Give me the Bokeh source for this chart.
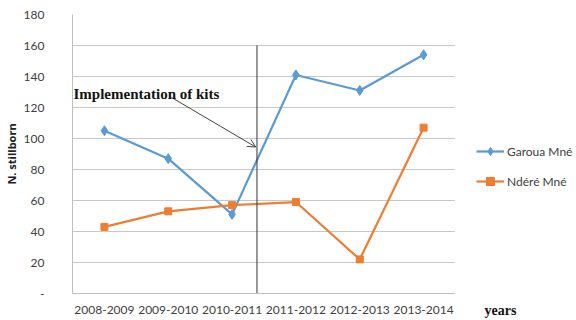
from bokeh.plotting import figure
from bokeh.models import Legend, LegendItem, Label, Arrow, OpenHead, FixedTicker, Range1d
from bokeh.layouts import row
from bokeh.embed import file_html
from bokeh.resources import INLINE

years = ["2008-2009", "2009-2010", "2010-2011", "2011-2012", "2012-2013", "2013-2014"]
garoua = [105, 87, 51, 141, 131, 154]
ndere = [43, 53, 57, 59, 22, 107]
y_ticks = [0, 20, 40, 60, 80, 100, 120, 140, 160, 180]

BLUE = "#5B9BD5"
ORANGE = "#ED7D31"

xs = list(range(len(years)))

p = figure(width=455, height=320, output_backend="svg", toolbar_location=None,
           x_range=(-0.5, 5.5), y_range=(0, 180),
           min_border_left=71, min_border_right=0, min_border_top=14, min_border_bottom=27)
p.outline_line_color = None

# axes
p.xaxis.ticker = FixedTicker(ticks=xs)
p.xaxis.major_label_overrides = {i: y for i, y in enumerate(years)}
p.yaxis.ticker = FixedTicker(ticks=y_ticks)
p.yaxis.major_label_overrides = {0: "-"}
for ax in (p.xaxis[0], p.yaxis[0]):
    ax.major_tick_line_color = None
    ax.minor_tick_line_color = None
    ax.axis_line_color = "#bfbfbf"
    ax.major_label_text_font = "Lato"
    ax.major_label_text_font_size = "12px"
    ax.major_label_text_color = "#404040"
p.xaxis.major_label_standoff = 6
p.yaxis.major_label_standoff = 22
p.yaxis.axis_label = "N. stillborn"
p.yaxis.axis_label_text_font = "Open Sans"
p.yaxis.axis_label_text_font_style = "bold"
p.yaxis.axis_label_text_font_size = "11px"
p.yaxis.axis_label_text_color = "#222222"
p.yaxis.axis_label_standoff = 2

p.xgrid.grid_line_color = None
p.ygrid.grid_line_color = "#c8c8c8"
p.ygrid.grid_line_width = 1

# series
p.line(xs, garoua, line_color=BLUE, line_width=2.2)
p.scatter(xs, garoua, marker="diamond", size=10, color=BLUE)
p.line(xs, ndere, line_color=ORANGE, line_width=2.2)
p.scatter(xs, ndere, marker="square", size=7, color=ORANGE)

# implementation line
p.segment(x0=[2.39], y0=[0], x1=[2.39], y1=[160], line_color="#333333", line_width=1)

# annotation
p.add_layout(Arrow(end=OpenHead(size=8, line_color="#444444", line_width=1),
                   x_start=1.05, y_start=126.5, x_end=2.37, y_end=94.5,
                   line_color="#444444", line_width=1))
p.add_layout(Label(x=-0.5, y=129, text="Implementation of kits",
                   text_font="Liberation Serif", text_font_style="bold",
                   text_font_size="15px", text_color="#111111",
                   text_baseline="middle", x_offset=1))

# right-hand panel: legend and "years"
p2 = figure(width=121, height=320, output_backend="svg", toolbar_location=None,
            x_range=Range1d(455, 576), y_range=Range1d(0, 1),
            min_border_left=0, min_border_right=0,
            min_border_top=14, min_border_bottom=27)
p2.yaxis.visible = False
p2.grid.grid_line_color = None
p2.outline_line_color = None
xa = p2.xaxis[0]
xa.ticker = FixedTicker(ticks=[500])
xa.major_label_overrides = {500: "years"}
xa.axis_line_color = None
xa.major_tick_line_color = None
xa.minor_tick_line_color = None
xa.major_label_text_font = "Liberation Serif"
xa.major_label_text_font_style = "bold"
xa.major_label_text_font_size = "14px"
xa.major_label_text_color = "#111111"
xa.major_label_standoff = 3

# legend renderers (series data lies outside this panel's ranges, so only the legend shows)
gl = p2.line(xs, garoua, line_color=BLUE, line_width=2.2)
gm = p2.scatter(xs, garoua, marker="diamond", size=9, color=BLUE)
nl = p2.line(xs, ndere, line_color=ORANGE, line_width=2.2)
nm = p2.scatter(xs, ndere, marker="square", size=7, color=ORANGE)

legend = Legend(items=[LegendItem(label="Garoua Mné", renderers=[gl, gm]),
                       LegendItem(label="Ndéré Mné", renderers=[nl, nm])],
                location=(21, 102), border_line_color=None, background_fill_alpha=0,
                label_text_font="Lato", label_text_font_size="12px",
                label_text_color="#404040", glyph_width=28, glyph_height=20,
                label_standoff=3, spacing=10, padding=4, margin=0)
p2.add_layout(legend)

layout = row(p, p2, spacing=0)
open("out.html", "w").write(file_html(layout, INLINE))
